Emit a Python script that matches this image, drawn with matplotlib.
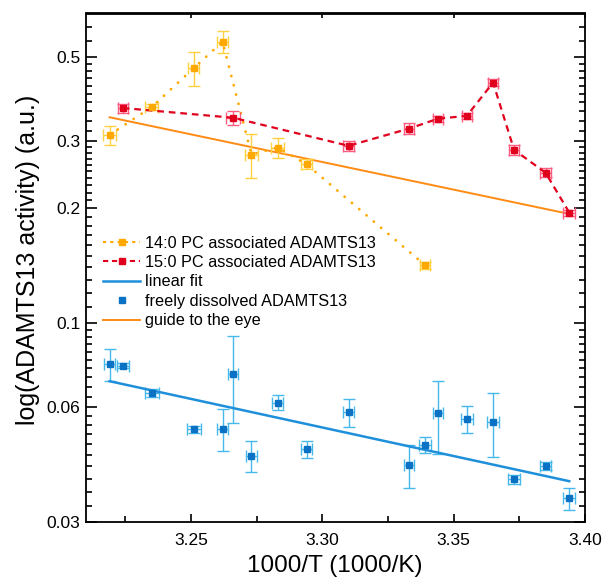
import numpy as np
import matplotlib
matplotlib.use('Agg')
import matplotlib.pyplot as plt
from matplotlib.ticker import FixedLocator, FixedFormatter, NullFormatter
from matplotlib.lines import Line2D

plt.rcParams['font.family'] = ['Liberation Sans', 'DejaVu Sans']

# ---------------- data ----------------
# 14:0 PC associated ADAMTS13
x14 = [3.219, 3.235, 3.251, 3.262, 3.273, 3.283, 3.294, 3.339]
y14 = [0.312, 0.369, 0.467, 0.548, 0.277, 0.289, 0.261, 0.142]
y14_err = [0.018, 0.007, 0.049, 0.035, 0.036, 0.017, 0.008, 0.003]
x14_err = [0.0025, 0.0025, 0.0020, 0.0022, 0.0025, 0.0025, 0.0022, 0.0020]

# 15:0 PC associated ADAMTS13
x15 = [3.224, 3.266, 3.310, 3.333, 3.344, 3.355, 3.365, 3.373, 3.385, 3.394]
y15 = [0.367, 0.346, 0.292, 0.324, 0.344, 0.350, 0.428, 0.285, 0.248, 0.195]
y15_err = [0.010, 0.014, 0.0087, 0.0104, 0.006, 0.006, 0.010, 0.0085, 0.0067, 0.0035]
x15_err = [0.0020, 0.0028, 0.0020, 0.0020, 0.0020, 0.0020, 0.0020, 0.0020, 0.0020, 0.0022]

# freely dissolved ADAMTS13
xfree = [3.219, 3.224, 3.235, 3.251, 3.262, 3.266, 3.273, 3.283, 3.294,
         3.310, 3.333, 3.339, 3.344, 3.355, 3.365, 3.373, 3.385, 3.394]
yfree = [0.0779, 0.0773, 0.0655, 0.0525, 0.0528, 0.0735, 0.0447, 0.0618, 0.0466,
         0.0583, 0.0424, 0.0479, 0.0580, 0.0559, 0.0550, 0.0388, 0.0421, 0.0346]
yfree_err = [0.0075, 0.0010, 0.0015, 0.0010, 0.0068, 0.0190, 0.0042, 0.0028, 0.0024,
             0.0049, 0.0055, 0.0023, 0.0126, 0.0046, 0.0105, 0.0010, 0.0010, 0.0023]
xfree_err = [0.0022, 0.0022, 0.0027, 0.0026, 0.0020, 0.0020, 0.0022, 0.0022, 0.0022,
             0.0020, 0.0020, 0.0022, 0.0020, 0.0022, 0.0022, 0.0022, 0.0022, 0.0022]

# linear fit (freely dissolved) and guide to the eye
fit_x = [3.219, 3.394]
fit_y = [0.0703, 0.0384]
guide_x = [3.219, 3.393]
guide_y = [0.347, 0.194]

ytick_vals = [0.03, 0.06, 0.1, 0.2, 0.3, 0.5]
ytick_labels = ['0.03', '0.06', '0.1', '0.2', '0.3', '0.5']
xtick_vals = [3.25, 3.30, 3.35, 3.40]
xtick_labels = ['3.25', '3.30', '3.35', '3.40']

# ---------------- colours ----------------
c_yel = '#FFA800'
c_yel_e = '#FFD040'
c_red = '#E0001E'
c_red_e = '#FF5C80'
c_blue = '#0A72C4'
c_blue_e = '#45B8EC'
c_fit = '#1E8FDA'
c_orange = '#FF8A14'

fig = plt.figure(figsize=(6.11, 5.80), dpi=100)
ax = fig.add_axes([86/611, 1-522/580, 499/611, 508.5/580])

# guide to the eye
ax.plot(guide_x, guide_y, color=c_orange, lw=1.4, zorder=2)
# linear fit
ax.plot(fit_x, fit_y, color=c_fit, lw=1.8, zorder=4)

# 14:0
ax.errorbar(x14, y14, yerr=y14_err, xerr=x14_err, fmt='none', ecolor=c_yel_e,
            elinewidth=1.0, capsize=4.5, capthick=1.0, zorder=3)
ax.plot(x14, y14, ls=(0, (0.05, 3.4)), color=c_yel, lw=2.0, dash_capstyle='round', zorder=3)
ax.plot(x14, y14, ls='none', marker='s', ms=4.5, color=c_yel, zorder=5)

# 15:0
ax.errorbar(x15, y15, yerr=y15_err, xerr=x15_err, fmt='none', ecolor=c_red_e,
            elinewidth=1.0, capsize=4.0, capthick=1.0, zorder=3)
ax.plot(x15, y15, ls=(0, (3, 2.2)), color=c_red, lw=1.6, zorder=3)
ax.plot(x15, y15, ls='none', marker='s', ms=5, color=c_red, zorder=5)

# free
ax.errorbar(xfree, yfree, yerr=yfree_err, xerr=xfree_err, fmt='none', ecolor=c_blue_e,
            elinewidth=1.0, capsize=4.5, capthick=1.0, zorder=3)
ax.plot(xfree, yfree, ls='none', marker='s', ms=4.5, color=c_blue, zorder=5)

# ---------------- axes ----------------
ax.set_yscale('log')
ax.set_xlim(3.21, 3.40)
ax.set_ylim(0.03, 0.65)

ax.yaxis.set_major_locator(FixedLocator(ytick_vals))
ax.yaxis.set_major_formatter(FixedFormatter(ytick_labels))
yminor = list(np.arange(0.033, 0.0595, 0.003)) + list(np.arange(0.064, 0.0995, 0.004)) + \
         list(np.arange(0.11, 0.195, 0.01)) + list(np.arange(0.21, 0.295, 0.01)) + \
         list(np.arange(0.32, 0.495, 0.02)) + [0.55, 0.60]
ax.yaxis.set_minor_locator(FixedLocator(yminor))
ax.yaxis.set_minor_formatter(NullFormatter())

ax.xaxis.set_major_locator(FixedLocator(xtick_vals))
ax.xaxis.set_major_formatter(FixedFormatter(xtick_labels))
ax.xaxis.set_minor_locator(FixedLocator([3.225, 3.275, 3.325, 3.375]))

ax.tick_params(axis='y', which='both', direction='in', left=True, right=True,
               labelsize=12.5, pad=4, width=1.2)
ax.tick_params(axis='y', which='major', length=8)
ax.tick_params(axis='y', which='minor', length=4)
ax.tick_params(axis='x', which='both', direction='in', bottom=True, top=False,
               labelsize=12.5, pad=8, width=1.2)
ax.tick_params(axis='x', which='major', length=6)
ax.tick_params(axis='x', which='minor', length=4)

secx = ax.secondary_xaxis('top')
secx.xaxis.set_major_locator(FixedLocator(xtick_vals))
secx.tick_params(axis='x', direction='in', length=3.5, width=1.2, labeltop=False)
secx.xaxis.set_minor_locator(FixedLocator([]))
for s in secx.spines.values():
    s.set_linewidth(1.3)

for s in ax.spines.values():
    s.set_linewidth(1.3)

ax.set_xlabel('1000/T (1000/K)', fontsize=17.5)
ax.xaxis.set_label_coords(0.499, -0.064)
ax.set_ylabel('log(ADAMTS13 activity) (a.u.)', fontsize=18)
ax.yaxis.set_label_coords(-0.092, 0.515)

# ---------------- legend ----------------
handles = [
    Line2D([], [], color=c_yel, ls=(0, (1.5, 2.0)), lw=1.5, marker='s', ms=4, label='14:0 PC associated ADAMTS13'),
    Line2D([], [], color=c_red, ls=(0, (2.5, 1.8)), lw=1.5, marker='s', ms=4, label='15:0 PC associated ADAMTS13'),
    Line2D([], [], color=c_fit, lw=1.8, label='linear fit'),
    Line2D([], [], color=c_blue, ls='none', marker='s', ms=4, label='freely dissolved ADAMTS13'),
    Line2D([], [], color=c_orange, lw=1.4, label='guide to the eye'),
]
leg = ax.legend(handles=handles, loc='upper left', bbox_to_anchor=(0.034, 0.563),
                frameon=False, fontsize=11.7, handlelength=2.3, handletextpad=0.3,
                labelspacing=0.27, borderpad=0, borderaxespad=0)

fig.savefig('out.png', dpi=100)
